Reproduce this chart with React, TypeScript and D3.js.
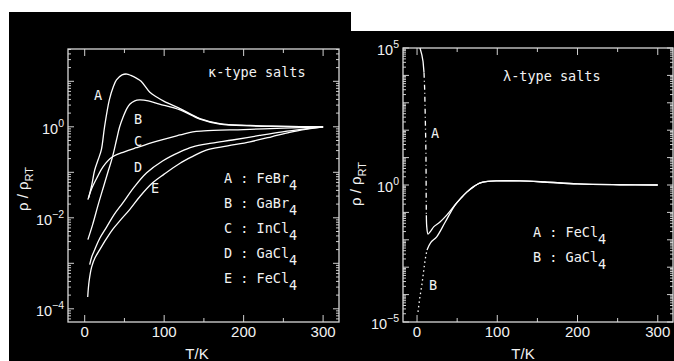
import React, { useEffect, useRef } from 'react';
import * as d3 from 'd3';

// κ-type salts, T in K and log10(ρ/ρRT)
const kappaA_T = [5, 9, 12.6, 17, 21, 25, 31, 36, 40, 47, 53, 58, 65, 71, 82, 90, 100, 120, 145, 170, 208, 250, 300];
const kappaA_log = [-1.56, -1.27, -0.95, -0.72, -0.5, 0, 0.59, 0.88, 1.03, 1.14, 1.16, 1.13, 1.07, 1.0, 0.76, 0.66, 0.56, 0.4, 0.18, 0.07, 0.03, 0.01, 0];
const kappaB_T = [4, 10, 17, 24, 30, 35, 40, 44, 48, 53, 57, 63, 69, 80, 94, 120, 145, 170, 208, 250, 300];
const kappaB_log = [-2.48, -2.15, -1.71, -1.3, -0.95, -0.66, -0.29, 0, 0.2, 0.4, 0.5, 0.57, 0.59, 0.57, 0.5, 0.37, 0.17, 0.06, 0.02, 0.01, 0];
const kappaC_T = [4, 9, 16, 23, 35, 50, 65, 90, 120, 136, 150, 200, 250, 300];
const kappaC_log = [-1.6, -1.35, -1.1, -0.88, -0.66, -0.55, -0.46, -0.32, -0.18, -0.11, -0.09, -0.06, -0.03, 0];
const kappaD_T = [6.3, 9, 12.6, 19, 27.7, 37, 48, 62, 78, 98, 120, 136, 160, 186, 220, 249, 275, 300];
const kappaD_log = [-3.03, -2.85, -2.7, -2.45, -2.2, -1.93, -1.67, -1.33, -1.01, -0.75, -0.55, -0.44, -0.36, -0.29, -0.19, -0.11, -0.05, 0];
const kappaE_T = [3.8, 5.5, 8.8, 13, 19, 27, 35, 45, 56.6, 70, 85.5, 100, 120, 136, 153, 180, 208, 235, 258, 280, 300];
const kappaE_log = [-3.74, -3.4, -3.08, -2.88, -2.7, -2.47, -2.26, -2.05, -1.82, -1.52, -1.23, -1.04, -0.8, -0.65, -0.51, -0.42, -0.33, -0.22, -0.12, -0.05, 0];

// λ-type salts
const lambdaA_T = [3.7, 6, 7.5, 8.7, 9.5, 10, 10.6, 11.1, 11.3, 11.4, 11.6, 12.2, 13.7, 17, 21, 28.6, 37, 47.3, 55, 62, 71, 78, 88, 100, 128, 159, 200, 253, 300];
const lambdaA_log = [5.0, 4.75, 4.5, 4.1, 3.5, 2.85, 2.0, 1.2, 0.3, -0.5, -1.1, -1.55, -1.79, -1.68, -1.52, -1.35, -1.1, -0.73, -0.47, -0.26, -0.05, 0.07, 0.13, 0.15, 0.15, 0.11, 0.04, 0.01, 0];
const lambdaB_T = [1.2, 3.5, 6, 8, 10, 12.4, 17, 24.5, 35, 47.3, 55, 62, 71, 78, 88, 100, 128, 159, 200, 253, 300];
const lambdaB_log = [-4.63, -4.1, -3.65, -3.2, -2.74, -2.37, -2.1, -1.89, -1.36, -0.73, -0.47, -0.26, -0.05, 0.07, 0.13, 0.15, 0.15, 0.11, 0.04, 0.01, 0];

const kappaLegend = [['A', 'FeBr'], ['B', 'GaBr'], ['C', 'InCl'], ['D', 'GaCl'], ['E', 'FeCl']];
const lambdaLegend = [['A', 'FeCl'], ['B', 'GaCl']];
const xTickLabels = [0, 100, 200, 300];

const zip = (t, l) => t.map((v, i) => [v, l[i]]);

const App = () => {
  const svgRef = useRef(null);

  useEffect(() => {
    const svg = d3.select(svgRef.current);
    svg.selectAll('*').remove();

    const fg = '#f2f2f2';
    const mono = '"DejaVu Sans Mono", monospace';
    const sans = '"Liberation Sans", Arial, sans-serif';

    // black backgrounds
    svg.append('rect').attr('x', 9).attr('y', 12).attr('width', 342).attr('height', 349).attr('fill', '#000');
    svg.append('rect').attr('x', 350).attr('y', 31).attr('width', 324).attr('height', 330).attr('fill', '#000');

    const drawPanel = (cfg) => {
      const { x, y, id, decades, labelExp, series, yLabelX, xLabelX } = cfg;
      const [x0, x1] = x.range();
      const [y1, y0] = y.range();
      const g = svg.append('g');

      g.append('clipPath').attr('id', id)
        .append('rect').attr('x', x0).attr('y', y0).attr('width', x1 - x0).attr('height', y1 - y0);

      // y ticks, major every decade, minor 2..9
      decades.forEach(k => {
        const v = Math.pow(10, k);
        const yy = y(v);
        if (yy >= y0 - 0.5 && yy <= y1 + 0.5) {
          g.append('line').attr('x1', x0).attr('x2', x0 + 6).attr('y1', yy).attr('y2', yy);
          g.append('line').attr('x1', x1).attr('x2', x1 - 6).attr('y1', yy).attr('y2', yy);
        }
        for (let m = 2; m < 10; m++) {
          const ym = y(m * v);
          if (ym < y0 || ym > y1) continue;
          g.append('line').attr('x1', x0).attr('x2', x0 + 3).attr('y1', ym).attr('y2', ym);
          g.append('line').attr('x1', x1).attr('x2', x1 - 3).attr('y1', ym).attr('y2', ym);
        }
      });

      // x ticks every 50 K
      d3.range(0, 301, 50).forEach(t => {
        const len = t % 100 === 0 ? 7 : 4;
        g.append('line').attr('x1', x(t)).attr('x2', x(t)).attr('y1', y1).attr('y2', y1 - len);
        g.append('line').attr('x1', x(t)).attr('x2', x(t)).attr('y1', y0).attr('y2', y0 + len);
      });
      g.selectAll('line').attr('stroke', '#d0d0d0').attr('stroke-width', 1);

      g.append('rect')
        .attr('x', x0).attr('y', y0).attr('width', x1 - x0).attr('height', y1 - y0)
        .attr('fill', 'none').attr('stroke', '#d8d8d8').attr('stroke-width', 1.3);

      // tick labels
      labelExp.forEach(k => {
        const t = g.append('text')
          .attr('x', x0 - 4).attr('y', y(Math.pow(10, k)) + 7)
          .attr('text-anchor', 'end').attr('fill', fg)
          .style('font-family', sans).style('font-size', '14.5px');
        t.append('tspan').text('10');
        t.append('tspan').attr('dy', -7).style('font-size', '10.5px').text(k < 0 ? '\u2212' + (-k) : String(k));
      });
      xTickLabels.forEach(t => {
        g.append('text').attr('x', x(t)).attr('y', 337)
          .attr('text-anchor', 'middle').attr('fill', fg)
          .style('font-family', sans).style('font-size', '15px').text(t);
      });

      // axis titles
      g.append('text').attr('x', xLabelX).attr('y', 359)
        .attr('text-anchor', 'middle').attr('fill', fg)
        .style('font-family', sans).style('font-size', '15px').text('T/K');
      const yl = g.append('text')
        .attr('transform', `translate(${yLabelX},${cfg.yLabelY}) rotate(-90)`)
        .attr('text-anchor', 'middle').attr('fill', fg)
        .style('font-family', sans).style('font-size', '15px');
      yl.append('tspan').text('\u03c1 / \u03c1');
      yl.append('tspan').attr('dy', 5).style('font-size', '11px').text('RT');

      // curves
      const curves = g.append('g').attr('clip-path', `url(#${id})`);
      series.forEach(s => {
        const line = d3.line()
          .x(d => x(d[0]))
          .y(d => y(Math.pow(10, d[1])))
          .curve(s.linear ? d3.curveLinear : d3.curveCatmullRom.alpha(0.5));
        curves.append('path')
          .attr('d', line(s.pts))
          .attr('fill', 'none').attr('stroke', '#fff')
          .attr('stroke-width', 1.3)
          .attr('stroke-dasharray', s.dash || null);
      });

      // curve letters
      cfg.letters.forEach(([txt, lx, ly]) => {
        g.append('text').attr('x', lx).attr('y', ly).attr('text-anchor', 'middle')
          .attr('fill', fg).style('font-family', mono).style('font-size', '13.5px').text(txt);
      });

      // title and legend
      g.append('text').attr('x', cfg.title[1]).attr('y', cfg.title[2]).attr('fill', fg)
        .style('font-family', mono).style('font-size', '13.5px').text(cfg.title[0]);
      cfg.legend.forEach(([letter, name], i) => {
        const t = g.append('text').attr('x', cfg.legendX).attr('y', cfg.legendY + i * 25)
          .attr('fill', fg).style('font-family', mono).style('font-size', '13.5px');
        t.append('tspan').text(`${letter} : ${name}`);
        t.append('tspan').attr('dy', 7).text('4');
      });
    };

    const xL = d3.scaleLinear().domain([-21, 320]).range([68, 339]);
    const yL = d3.scaleLog().domain([Math.pow(10, -4.29), Math.pow(10, 1.71)]).range([322, 49]);
    drawPanel({
      id: 'clipL', x: xL, y: yL,
      decades: [-5, -4, -3, -2, -1, 0, 1],
      labelExp: [-4, -2, 0],
      yLabelX: 28, yLabelY: 189, xLabelX: 197,
      series: [
        { pts: zip(kappaA_T, kappaA_log) },
        { pts: zip(kappaB_T, kappaB_log) },
        { pts: zip(kappaC_T, kappaC_log) },
        { pts: zip(kappaD_T, kappaD_log) },
        { pts: zip(kappaE_T, kappaE_log) },
      ],
      letters: [['A', 98, 100], ['B', 138, 124], ['C', 138, 146], ['D', 138, 172], ['E', 155, 193]],
      title: ['\u03ba-type salts', 208, 77],
      legend: kappaLegend, legendX: 224, legendY: 183,
    });

    const xR = d3.scaleLinear().domain([-17.5, 319]).range([403, 673]);
    const yR = d3.scaleLog().domain([1e-5, 1e5]).range([322, 48]);
    const aPts = zip(lambdaA_T, lambdaA_log);
    const bPts = zip(lambdaB_T, lambdaB_log);
    drawPanel({
      id: 'clipR', x: xR, y: yR,
      decades: [-5, -4, -3, -2, -1, 0, 1, 2, 3, 4, 5],
      labelExp: [-5, 0, 5],
      yLabelX: 361, yLabelY: 184, xLabelX: 523,
      series: [
        { pts: aPts.slice(0, 4), linear: true },
        { pts: aPts.slice(3, 11), dash: '5,3,1,3', linear: true },
        { pts: aPts.slice(10) },
        { pts: bPts.slice(0, 6), dash: '1.5,3', linear: true },
        { pts: bPts.slice(5) },
      ],
      letters: [['A', 435, 138], ['B', 433, 290]],
      title: ['\u03bb-type salts', 503, 81],
      legend: lambdaLegend, legendX: 533, legendY: 237,
    });
  }, []);

  return (
    <svg ref={svgRef} width={674} height={361}
      style={{ position: 'absolute', left: 0, top: 0, background: '#fff' }} />
  );
};

export default App;
